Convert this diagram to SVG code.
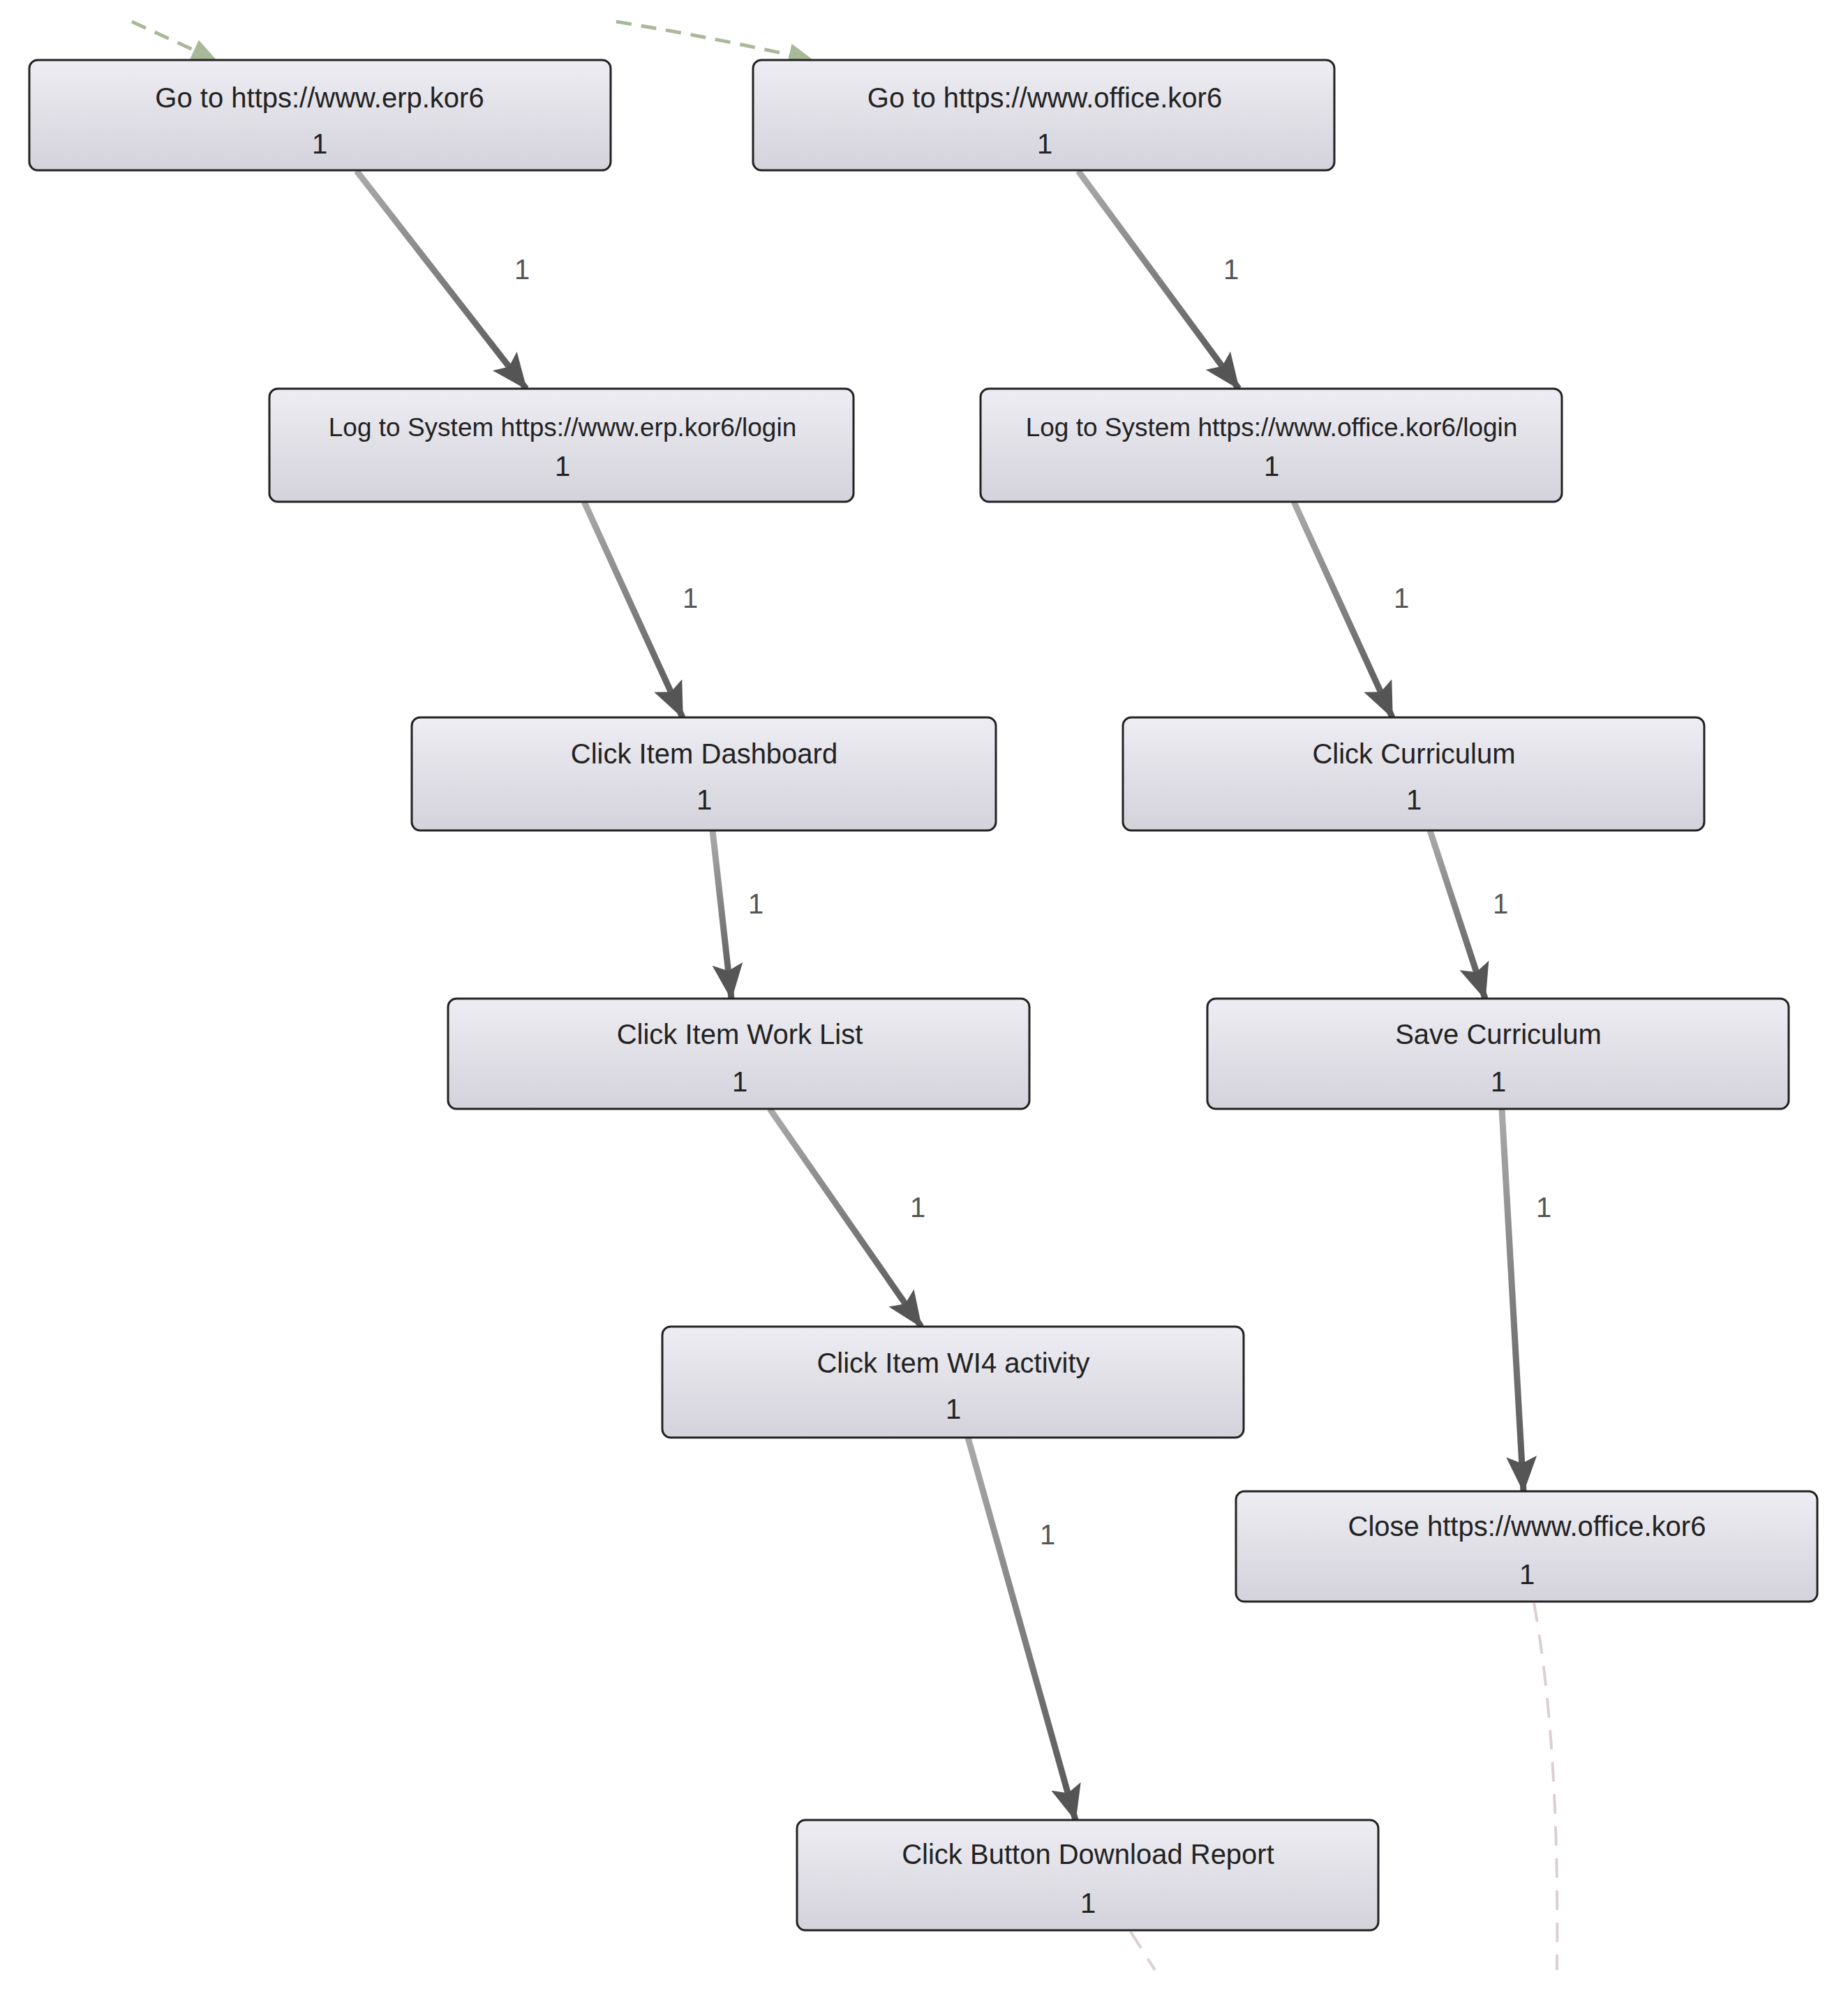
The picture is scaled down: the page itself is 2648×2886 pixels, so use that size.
<svg xmlns="http://www.w3.org/2000/svg" width="2648" height="2886" viewBox="0 0 2648 2886">
<style>
.box{stroke:#222;stroke-width:3;fill:url(#nodeg)}
.t{font-family:"Liberation Sans",Arial,sans-serif;font-size:40px;fill:#222;text-anchor:middle}
.ts{font-size:37px}
.el{font-family:"Liberation Sans",Arial,sans-serif;font-size:40px;fill:#555;text-anchor:middle}
.e{stroke-width:9;fill:none;marker-end:url(#ah)}
</style>
<defs>
<linearGradient id="nodeg" x1="0" y1="0" x2="0" y2="1"><stop offset="0" stop-color="#eeedf3"/><stop offset="1" stop-color="#d4d2da"/></linearGradient>
<marker id="ah" markerUnits="userSpaceOnUse" markerWidth="60" markerHeight="50" refX="50" refY="22" orient="auto"><path d="M0,0 L52,22 L0,44 L10,22 Z" fill="#555"/></marker>
<marker id="gh" markerUnits="userSpaceOnUse" markerWidth="40" markerHeight="40" refX="34" refY="16" orient="auto"><path d="M0,0 L36,16 L0,32 Z" fill="#a8b898"/></marker>
<linearGradient id="g1" gradientUnits="userSpaceOnUse" x1="511" y1="245" x2="754" y2="557"><stop offset="0" stop-color="#aaa"/><stop offset="1" stop-color="#555"/></linearGradient>
<linearGradient id="g2" gradientUnits="userSpaceOnUse" x1="1545" y1="245" x2="1775" y2="557"><stop offset="0" stop-color="#aaa"/><stop offset="1" stop-color="#555"/></linearGradient>
<linearGradient id="g3" gradientUnits="userSpaceOnUse" x1="837" y1="719" x2="978" y2="1028"><stop offset="0" stop-color="#aaa"/><stop offset="1" stop-color="#555"/></linearGradient>
<linearGradient id="g4" gradientUnits="userSpaceOnUse" x1="1854" y1="719" x2="1995" y2="1028"><stop offset="0" stop-color="#aaa"/><stop offset="1" stop-color="#555"/></linearGradient>
<linearGradient id="g5" gradientUnits="userSpaceOnUse" x1="1021" y1="1190" x2="1048" y2="1431"><stop offset="0" stop-color="#aaa"/><stop offset="1" stop-color="#555"/></linearGradient>
<linearGradient id="g6" gradientUnits="userSpaceOnUse" x1="2049" y1="1190" x2="2128" y2="1431"><stop offset="0" stop-color="#aaa"/><stop offset="1" stop-color="#555"/></linearGradient>
<linearGradient id="g7" gradientUnits="userSpaceOnUse" x1="1103" y1="1589" x2="1320" y2="1901"><stop offset="0" stop-color="#aaa"/><stop offset="1" stop-color="#555"/></linearGradient>
<linearGradient id="g8" gradientUnits="userSpaceOnUse" x1="2152" y1="1589" x2="2183" y2="2137"><stop offset="0" stop-color="#aaa"/><stop offset="1" stop-color="#555"/></linearGradient>
<linearGradient id="g9" gradientUnits="userSpaceOnUse" x1="1387" y1="2060" x2="1541" y2="2608"><stop offset="0" stop-color="#aaa"/><stop offset="1" stop-color="#555"/></linearGradient>
</defs>
<rect width="2648" height="2886" fill="#fff"/>
<g id="connectors">
<path d="M189,31 L309,86" stroke="#a8b898" stroke-width="5" stroke-dasharray="22,14" fill="none" marker-end="url(#gh)"/>
<path d="M883,31 Q1030,55 1164,86" stroke="#a8b898" stroke-width="5" stroke-dasharray="22,14" fill="none" marker-end="url(#gh)"/>
<path d="M2198,2297 Q2235,2500 2231,2823" stroke="#dccfcf" stroke-width="4" stroke-dasharray="28,18" fill="none"/>
<path d="M1620,2768 L1655,2823" stroke="#dccfcf" stroke-width="4" stroke-dasharray="28,18" fill="none"/>
<line class="e" x1="511" y1="245" x2="754" y2="557" stroke="url(#g1)"/>
<line class="e" x1="1545" y1="245" x2="1775" y2="557" stroke="url(#g2)"/>
<line class="e" x1="837" y1="719" x2="978" y2="1028" stroke="url(#g3)"/>
<line class="e" x1="1854" y1="719" x2="1995" y2="1028" stroke="url(#g4)"/>
<line class="e" x1="1021" y1="1190" x2="1048" y2="1431" stroke="url(#g5)"/>
<line class="e" x1="2049" y1="1190" x2="2128" y2="1431" stroke="url(#g6)"/>
<line class="e" x1="1103" y1="1589" x2="1320" y2="1901" stroke="url(#g7)"/>
<line class="e" x1="2152" y1="1589" x2="2183" y2="2137" stroke="url(#g8)"/>
<line class="e" x1="1387" y1="2060" x2="1541" y2="2608" stroke="url(#g9)"/>
<text class="el" x="748" y="400">1</text>
<text class="el" x="1764" y="400">1</text>
<text class="el" x="989" y="871">1</text>
<text class="el" x="2008" y="871">1</text>
<text class="el" x="1083" y="1309">1</text>
<text class="el" x="2150" y="1309">1</text>
<text class="el" x="1315" y="1744">1</text>
<text class="el" x="2212" y="1744">1</text>
<text class="el" x="1501" y="2213">1</text>
</g>
<g id="n1"><rect class="box" x="42" y="86" width="833" height="158" rx="12"/><text class="t" x="458" y="154">Go to https://www.erp.kor6</text><text class="t" x="458" y="220">1</text></g>
<g id="n2"><rect class="box" x="1079" y="86" width="833" height="158" rx="12"/><text class="t" x="1497" y="154">Go to https://www.office.kor6</text><text class="t" x="1497" y="220">1</text></g>
<g id="n3"><rect class="box" x="386" y="557" width="837" height="162" rx="12"/><text class="t ts" x="806" y="625">Log to System  https://www.erp.kor6/login</text><text class="t" x="806" y="682">1</text></g>
<g id="n4"><rect class="box" x="1405" y="557" width="833" height="162" rx="12"/><text class="t ts" x="1822" y="625">Log to System  https://www.office.kor6/login</text><text class="t" x="1822" y="682">1</text></g>
<g id="n5"><rect class="box" x="590" y="1028" width="837" height="162" rx="12"/><text class="t" x="1009" y="1094">Click Item Dashboard</text><text class="t" x="1009" y="1160">1</text></g>
<g id="n6"><rect class="box" x="1609" y="1028" width="833" height="162" rx="12"/><text class="t" x="2026" y="1094">Click Curriculum</text><text class="t" x="2026" y="1160">1</text></g>
<g id="n7"><rect class="box" x="642" y="1431" width="833" height="158" rx="12"/><text class="t" x="1060" y="1496">Click Item Work List</text><text class="t" x="1060" y="1564">1</text></g>
<g id="n8"><rect class="box" x="1730" y="1431" width="833" height="158" rx="12"/><text class="t" x="2147" y="1496">Save Curriculum</text><text class="t" x="2147" y="1564">1</text></g>
<g id="n9"><rect class="box" x="949" y="1901" width="833" height="159" rx="12"/><text class="t" x="1366" y="1967">Click Item WI4 activity</text><text class="t" x="1366" y="2033">1</text></g>
<g id="n10"><rect class="box" x="1771" y="2137" width="833" height="158" rx="12"/><text class="t" x="2188" y="2201">Close https://www.office.kor6</text><text class="t" x="2188" y="2270">1</text></g>
<g id="n11"><rect class="box" x="1142" y="2608" width="833" height="158" rx="12"/><text class="t" x="1559" y="2671">Click Button Download Report</text><text class="t" x="1559" y="2741">1</text></g>
</svg>
